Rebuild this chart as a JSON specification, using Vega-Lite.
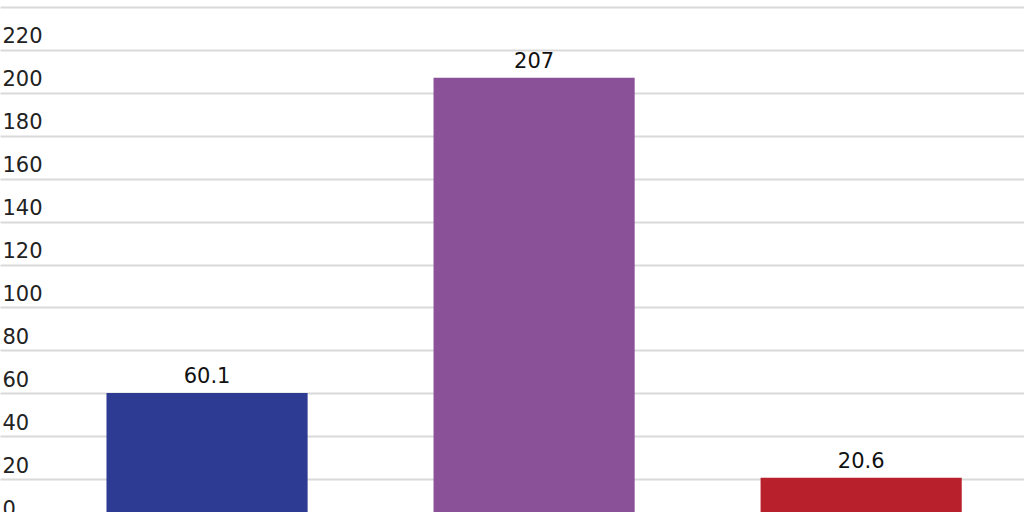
{
  "$schema": "https://vega.github.io/schema/vega-lite/v6.json",
  "width": 1024,
  "height": 515,
  "autosize": "none",
  "padding": {"left": 0, "top": 7, "right": 0, "bottom": 0},
  "background": "white",
  "config": {"view": {"stroke": null}, "font": "DejaVu Sans"},
  "data": {
    "values": [
      {"group": "A", "value": 60.1, "label": "60.1"},
      {"group": "B", "value": 207, "label": "207"},
      {"group": "C", "value": 20.6, "label": "20.6"}
    ]
  },
  "encoding": {
    "x": {
      "field": "group",
      "type": "nominal",
      "sort": null,
      "scale": {"paddingInner": 0.385, "paddingOuter": 0.258, "align": 0.631},
      "axis": null
    },
    "y": {
      "field": "value",
      "type": "quantitative",
      "scale": {"domain": [0, 240], "nice": false},
      "axis": {
        "values": [0, 20, 40, 60, 80, 100, 120, 140, 160, 180, 200, 220, 240],
        "labelExpr": "datum.value == 240 ? '' : datum.label",
        "title": null,
        "domain": false,
        "ticks": false,
        "tickSize": 0,
        "labelAlign": "left",
        "labelBaseline": "bottom",
        "labelPadding": -2,
        "labelOffset": -3,
        "labelFontSize": 21,
        "labelColor": "#222222",
        "grid": true,
        "gridColor": "#d9d9d9",
        "gridWidth": 2
      }
    }
  },
  "layer": [
    {
      "mark": {"type": "bar"},
      "encoding": {
        "color": {
          "field": "group",
          "type": "nominal",
          "scale": {"domain": ["A", "B", "C"], "range": ["#2d3b93", "#8b5198", "#b8202b"]},
          "legend": null
        }
      }
    },
    {
      "mark": {"type": "text", "baseline": "bottom", "dy": -6, "fontSize": 21, "color": "#111111"},
      "encoding": {"text": {"field": "label"}}
    }
  ]
}
